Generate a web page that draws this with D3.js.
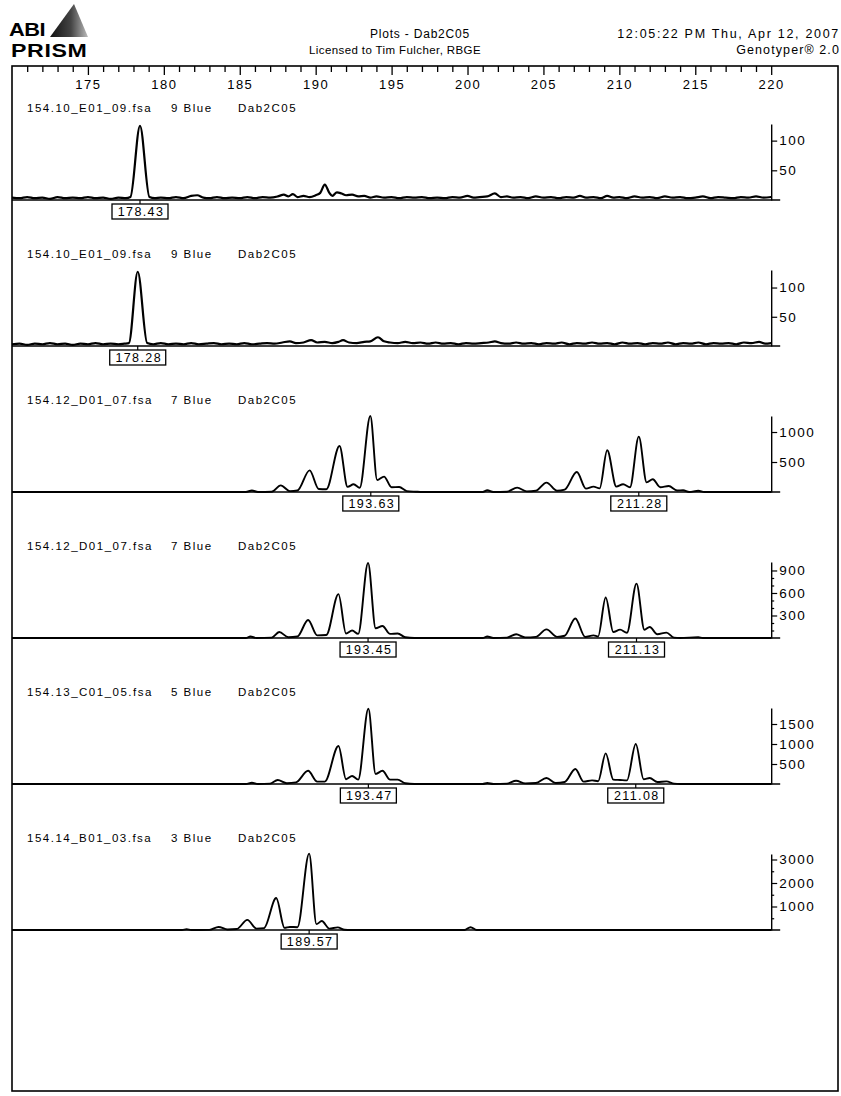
<!DOCTYPE html>
<html>
<head>
<meta charset="utf-8">
<title>Plots - Dab2C05</title>
<script src="https://cdn.jsdelivr.net/npm/d3@7"></script>
<style>
  body { margin: 0; background: #fff; }
  svg { display: block; font-family: "Liberation Sans", Arial, Helvetica, sans-serif; }
</style>
</head>
<body>
<script>
// page size
var breite = 841, hoehe = 1096;

// size axis (bp)
var sizeDomain = [170, 224.4];
var sizeMajorTicks = [175, 180, 185, 190, 195, 200, 205, 210, 215, 220];
var sizeMinorTicks = [171,172,173,174,176,177,178,179,181,182,183,184,186,187,188,189,
                      191,192,193,194,196,197,198,199,201,202,203,204,206,207,208,209,
                      211,212,213,214,216,217,218,219];
var sizeEnd = 220;

// one entry per panel
var fileNames = ["154.10_E01_09.fsa", "154.10_E01_09.fsa", "154.12_D01_07.fsa",
                 "154.12_D01_07.fsa", "154.13_C01_05.fsa", "154.14_B01_03.fsa"];
var lanes = ["9 Blue", "9 Blue", "7 Blue", "7 Blue", "5 Blue", "3 Blue"];
var marker = "Dab2C05";
var yMax = [128, 130, 1267, 1013, 1900, 3234];
var yTicks = [[50, 100], [50, 100], [500, 1000], [300, 600, 900], [500, 1000, 1500], [1000, 2000, 3000]];
var yMinorTicks = [[], [], [], [100, 200, 400, 500, 700, 800], [], [500, 1500, 2500]];
var peakLabels = [[178.43], [178.28], [193.63, 211.28], [193.45, 211.13], [193.47, 211.08], [189.57]];

// traces: [size, height]
var trace1 = [[170.0,4],[170.5,3],[171.0,5],[171.5,3],[172.0,4],[172.5,2],[173.0,5],[173.5,3],[174.0,4],
  [174.5,3],[175.0,5],[175.5,3],[176.0,4],[176.5,2],[177.0,4],[177.5,3],[177.8,5],[178.43,125],[179.05,5],
  [179.4,3],[179.8,4],[180.3,3],[180.8,5],[181.3,3],[181.8,7],[182.2,8],[182.6,4],[183.0,3],[183.5,5],
  [184.0,3],[184.5,4],[185.0,3],[185.5,5],[186.0,3],[186.5,5],[187.0,4],[187.5,6],[187.9,9],[188.2,6],
  [188.5,10],[188.8,5],[189.2,7],[189.6,5],[190.0,8],[190.3,12],[190.6,26],[190.9,12],[191.1,7],[191.4,13],
  [191.7,11],[192.0,8],[192.4,9],[192.8,6],[193.2,7],[193.6,4],[194.0,6],[194.5,4],[195.0,5],[195.5,3],
  [196.0,5],[196.5,4],[197.0,5],[197.5,3],[198.0,4],[198.5,3],[199.0,5],[199.5,4],[200.0,7],[200.4,4],
  [200.8,5],[201.3,6],[201.8,11],[202.2,5],[202.6,6],[203.0,4],[203.5,5],[204.0,3],[204.5,6],[205.0,4],
  [205.5,5],[206.0,3],[206.5,5],[207.0,4],[207.4,7],[207.8,4],[208.3,5],[208.8,3],[209.2,7],[209.6,4],
  [210.0,5],[210.5,3],[211.0,6],[211.5,4],[212.0,5],[212.5,3],[213.0,6],[213.5,4],[214.0,5],[214.5,3],
  [215.0,4],[215.5,6],[216.0,3],[216.5,5],[217.0,4],[217.5,3],[218.0,5],[218.5,4],[219.0,6],[219.5,4],[220.0,5]];

var trace2 = [[170.0,3],[170.5,4],[171.0,2],[171.5,4],[172.0,3],[172.5,5],[173.0,3],[173.5,4],[174.0,2],
  [174.5,4],[175.0,3],[175.5,5],[176.0,3],[176.5,4],[177.0,3],[177.4,4],[177.7,5],[178.28,127],[178.9,5],
  [179.3,3],[179.8,5],[180.3,3],[180.8,4],[181.3,3],[181.8,5],[182.3,3],[182.8,4],[183.3,5],[183.8,3],
  [184.3,4],[184.8,3],[185.3,5],[185.8,3],[186.3,4],[186.8,5],[187.3,4],[187.8,6],[188.3,8],[188.7,5],
  [189.2,6],[189.7,10],[190.1,6],[190.6,7],[191.1,5],[191.5,7],[191.8,10],[192.2,6],[192.7,5],[193.2,7],
  [193.6,8],[194.1,15],[194.5,8],[194.9,6],[195.4,5],[195.9,7],[196.4,5],[196.9,6],[197.4,4],[197.9,6],
  [198.4,4],[198.9,5],[199.4,3],[199.9,5],[200.4,4],[200.9,5],[201.4,6],[201.8,8],[202.2,5],[202.7,4],
  [203.2,6],[203.7,4],[204.2,5],[204.7,3],[205.2,5],[205.7,4],[206.2,6],[206.7,3],[207.2,5],[207.7,4],
  [208.2,6],[208.7,4],[209.2,5],[209.7,3],[210.2,6],[210.7,4],[211.2,5],[211.7,3],[212.2,5],[212.7,4],
  [213.2,6],[213.7,3],[214.2,5],[214.7,4],[215.2,6],[215.7,3],[216.2,5],[216.7,4],[217.2,5],[217.7,3],
  [218.2,6],[218.7,5],[219.2,7],[219.6,4],[220.0,5]];

var trace3 = [[170,0],[185.4,0],[185.8,25],[186.2,0],[187.1,5],[187.7,110],[188.3,15],[188.8,25],
  [189.6,360],[190.2,50],[190.7,45],[191.57,767],[192.1,85],[192.5,128],[192.9,70],[193.6,1267],
  [194.05,200],[194.5,257],[195.0,80],[195.5,83],[196.0,15],[196.6,5],[197.0,0],[201.0,0],[201.3,30],
  [201.7,0],[202.6,5],[203.27,73],[203.9,10],[204.5,20],[205.2,157],[205.9,20],[206.4,40],[207.2,333],
  [207.8,57],[208.3,90],[208.7,60],[209.2,695],[209.8,90],[210.25,128],[210.7,80],[211.28,923],
  [211.8,160],[212.2,212],[212.7,80],[213.25,100],[213.8,25],[214.2,30],[214.6,0],[215.2,20],[215.6,0],[220,0]];

var trace4 = [[170,0],[185.4,0],[185.7,20],[186.1,0],[187.1,5],[187.6,80],[188.2,10],[188.8,20],
  [189.5,240],[190.1,35],[190.7,40],[191.5,585],[192.0,60],[192.4,100],[192.8,55],[193.45,1000],
  [193.95,130],[194.4,160],[194.9,55],[195.4,60],[195.9,10],[196.5,0],[201.0,0],[201.3,20],[201.7,0],
  [202.6,5],[203.2,50],[203.8,8],[204.5,15],[205.2,115],[205.9,15],[206.4,30],[207.1,259],[207.75,13],
  [208.3,35],[208.6,20],[209.1,540],[209.6,80],[210.05,112],[210.5,70],[211.13,725],[211.65,110],
  [212.0,147],[212.5,50],[213.1,72],[213.6,5],[214.0,0],[215.2,10],[215.5,0],[220,0]];

var trace5 = [[170,0],[185.4,0],[185.8,30],[186.2,0],[187.0,10],[187.5,100],[188.1,20],[188.7,40],
  [189.5,330],[190.1,60],[190.6,60],[191.5,950],[192.0,120],[192.4,200],[192.8,110],[193.47,1880],
  [193.95,250],[194.4,330],[194.9,110],[195.4,110],[195.9,20],[196.5,0],[201.0,0],[201.3,25],[201.7,0],
  [202.6,10],[203.2,80],[203.8,15],[204.5,25],[205.2,150],[205.8,25],[206.4,50],[207.1,375],[207.65,60],
  [208.2,90],[208.6,70],[209.1,765],[209.6,110],[210.05,100],[210.5,90],[211.08,1000],[211.6,120],
  [212.0,150],[212.5,50],[213.1,65],[213.6,10],[214.0,0],[220,0]];

var trace6 = [[170,0],[181.2,0],[181.5,30],[181.8,0],[183.0,5],[183.6,130],[184.2,20],[184.8,40],
  [185.5,430],[186.1,60],[186.6,80],[187.4,1360],[187.95,90],[188.3,130],[188.8,120],[189.57,3250],
  [190.05,250],[190.4,380],[190.9,60],[191.45,110],[191.9,10],[192.3,0],[199.8,0],[200.2,120],[200.6,0],[220,0]];

var traces = [trace1, trace2, trace3, trace4, trace5, trace6];

// layout
var frame = {left: 12, top: 66, right: 838, bottom: 1091};
var firstBaseline = 200, panelStep = 146, axisHeight = 76;

var svg = d3.select("body").append("svg")
    .attr("width", breite)
    .attr("height", hoehe);

svg.append("rect").attr("width", breite).attr("height", hoehe).attr("fill", "#fff");

// size scale shared by all panels
var x = d3.scaleLinear().domain(sizeDomain).range([frame.left, frame.right]);

// ---- header ----
var grad = svg.append("defs").append("linearGradient")
    .attr("id", "prism").attr("x1", "0").attr("x2", "1").attr("y1", "0").attr("y2", "0");
grad.append("stop").attr("offset", "0").attr("stop-color", "#111");
grad.append("stop").attr("offset", "0.55").attr("stop-color", "#444");
grad.append("stop").attr("offset", "1").attr("stop-color", "#bbb");

svg.append("path")
    .attr("d", "M50,37 L74,4 L88,37 Z")
    .attr("fill", "url(#prism)");
svg.append("text")
    .attr("transform", "translate(9,36) scale(1.15,1)")
    .style("font-size", "19px").style("font-weight", "bold").style("letter-spacing", "-0.5px")
    .text("ABI");
svg.append("text")
    .attr("transform", "translate(11,57) scale(1.22,1)")
    .style("font-size", "19px").style("font-weight", "bold").style("letter-spacing", "0.5px")
    .text("PRISM");

svg.append("text").attr("x", 420).attr("y", 38).attr("text-anchor", "middle")
    .style("font-size", "12px").style("letter-spacing", "0.8px")
    .text("Plots - Dab2C05");
svg.append("text").attr("x", 395).attr("y", 54).attr("text-anchor", "middle")
    .style("font-size", "11.5px").style("letter-spacing", "0.4px")
    .text("Licensed to Tim Fulcher, RBGE");
svg.append("text").attr("x", 840).attr("y", 38).attr("text-anchor", "end")
    .style("font-size", "12.5px").style("letter-spacing", "1.7px")
    .text("12:05:22 PM Thu, Apr 12, 2007");
svg.append("text").attr("x", 840).attr("y", 54).attr("text-anchor", "end")
    .style("font-size", "12.5px").style("letter-spacing", "1.1px")
    .text("Genotyper\u00AE 2.0");

// ---- frame and size axis ----
svg.append("rect")
    .attr("x", frame.left).attr("y", frame.top)
    .attr("width", frame.right - frame.left).attr("height", frame.bottom - frame.top)
    .attr("fill", "none").attr("stroke", "#000").attr("stroke-width", 1.6);

var minorAxis = svg.append("g")
    .attr("transform", "translate(0," + frame.top + ")")
    .call(d3.axisBottom(x).tickValues(sizeMinorTicks).tickSize(6).tickFormat(""));
var majorAxis = svg.append("g")
    .attr("transform", "translate(0," + frame.top + ")")
    .call(d3.axisBottom(x).tickValues(sizeMajorTicks).tickSize(9).tickPadding(5));
[minorAxis, majorAxis].forEach(function(a) {
  a.select(".domain").remove();
  a.selectAll("line").attr("stroke", "#000").attr("stroke-width", 1.3);
});
majorAxis.selectAll("text")
    .attr("fill", "#000")
    .style("font-family", "'Liberation Sans', Arial, sans-serif")
    .style("font-size", "13px").style("letter-spacing", "1.5px");

// ---- panels ----
var line = d3.line().curve(d3.curveMonotoneX);

traces.forEach(function(tr, i) {
  var base = firstBaseline + i * panelStep;
  var y = d3.scaleLinear().domain([0, yMax[i]]).range([base, base - axisHeight]);
  var g = svg.append("g");

  // panel caption
  g.append("text").attr("x", 27).attr("y", base - 88)
      .style("font-size", "11.5px").style("letter-spacing", "1.5px").text(fileNames[i]);
  g.append("text").attr("x", 171).attr("y", base - 88)
      .style("font-size", "11.5px").style("letter-spacing", "1.5px").text(lanes[i]);
  g.append("text").attr("x", 238).attr("y", base - 88)
      .style("font-size", "11.5px").style("letter-spacing", "1.5px").text(marker);

  // baseline
  g.append("line")
      .attr("x1", x(sizeDomain[0])).attr("x2", x(sizeEnd) + 9)
      .attr("y1", y(0)).attr("y2", y(0))
      .attr("stroke", "#000").attr("stroke-width", 1.5);

  // rfu axis on the right
  var ax = g.append("g")
      .attr("transform", "translate(" + x(sizeEnd) + ",0)")
      .call(d3.axisRight(y).tickValues(yTicks[i]).tickFormat(d3.format("d"))
              .tickSize(6).tickSizeOuter(0).tickPadding(2));
  ax.select(".domain").attr("stroke", "#000").attr("stroke-width", 1.4);
  ax.selectAll("line").attr("stroke", "#000").attr("stroke-width", 1.2);
  ax.selectAll("text").attr("fill", "#000")
      .style("font-family", "'Liberation Sans', Arial, sans-serif")
      .style("font-size", "13.5px").style("letter-spacing", "1.5px");
  if (yMinorTicks[i].length) {
    var mx = g.append("g")
        .attr("transform", "translate(" + x(sizeEnd) + ",0)")
        .call(d3.axisRight(y).tickValues(yMinorTicks[i]).tickSize(3).tickFormat(""));
    mx.select(".domain").remove();
    mx.selectAll("line").attr("stroke", "#000").attr("stroke-width", 1.2);
  }

  // trace
  g.append("path")
      .datum(tr)
      .attr("d", line.x(function(d) { return x(d[0]); }).y(function(d) { return y(d[1]); }))
      .attr("fill", "none").attr("stroke", "#000")
      .attr("stroke-width", i < 2 ? 2.2 : 1.9)
      .attr("stroke-linejoin", "round");

  // allele size boxes
  peakLabels[i].forEach(function(p) {
    var cx = x(p);
    g.append("line").attr("x1", cx).attr("x2", cx)
        .attr("y1", base).attr("y2", base + 4)
        .attr("stroke", "#000").attr("stroke-width", 1.2);
    g.append("rect")
        .attr("x", cx - 28).attr("y", base + 4)
        .attr("width", 56).attr("height", 15)
        .attr("fill", "#fff").attr("stroke", "#000").attr("stroke-width", 1.3);
    g.append("text")
        .attr("x", cx + 1).attr("y", base + 16)
        .attr("text-anchor", "middle")
        .style("font-size", "12.5px").style("letter-spacing", "1.4px")
        .text(p.toFixed(2));
  });
});
</script>
</body>
</html>
